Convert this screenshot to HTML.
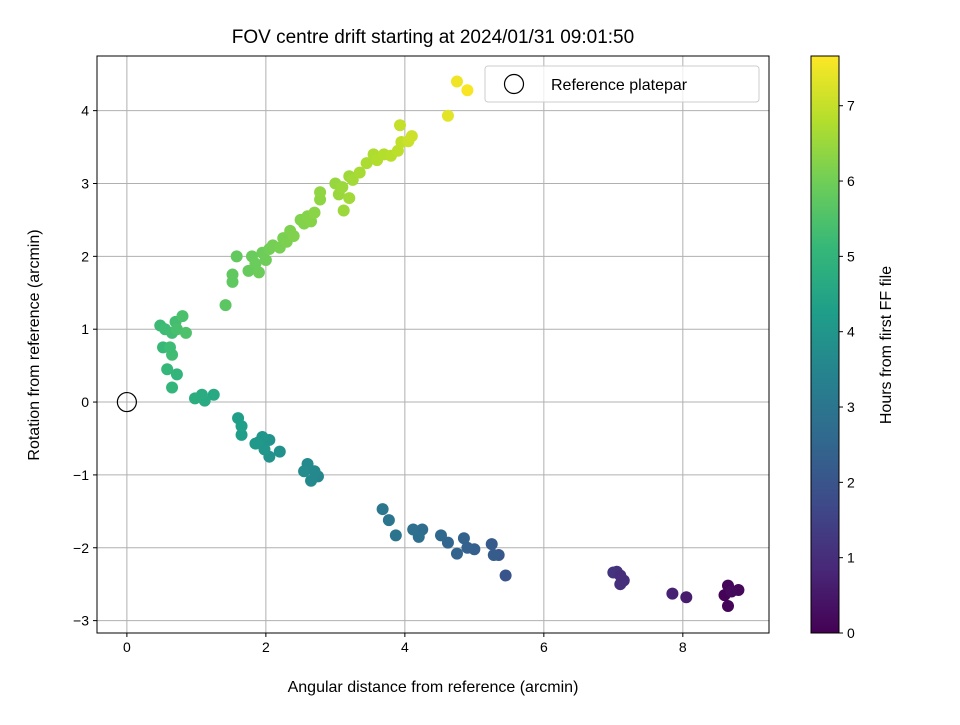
<!DOCTYPE html>
<html><head><meta charset="utf-8"><style>body{margin:0;background:#fff}svg{font-family:"Liberation Sans","DejaVu Sans",sans-serif}</style></head>
<body>
<svg id="c" width="960" height="720" xmlns="http://www.w3.org/2000/svg"></svg>
<script>
const xTicks=[0,2,4,6,8];
const yTicks=[-3,-2,-1,0,1,2,3,4];
const cTicks=[0,1,2,3,4,5,6,7];
const xs=[8.65,8.8,8.6,8.65,8.7,8.05,7.85,7.15,7.1,7.05,7.0,7.1,5.45,5.35,5.25,5.28,5.0,4.9,4.85,4.75,4.62,4.52,4.25,4.2,4.12,3.87,3.77,3.68,2.75,2.7,2.65,2.6,2.55,2.2,2.05,2.05,1.98,1.95,1.9,1.85,1.65,1.65,1.6,1.25,1.12,1.08,0.98,0.72,0.65,0.58,0.52,0.48,0.55,0.65,0.7,0.65,0.62,0.72,0.8,0.85,1.42,1.52,1.52,1.58,1.75,1.8,1.85,1.9,1.95,2.0,2.05,2.1,2.2,2.25,2.3,2.35,2.4,2.5,2.55,2.6,2.65,2.7,2.78,2.78,3.0,3.05,3.1,3.12,3.2,3.2,3.25,3.35,3.45,3.55,3.6,3.7,3.8,3.9,3.95,3.93,4.05,4.1,4.62,4.75,4.9];
const ys=[-2.52,-2.58,-2.65,-2.8,-2.6,-2.68,-2.63,-2.45,-2.5,-2.33,-2.34,-2.38,-2.38,-2.1,-1.95,-2.1,-2.02,-2.0,-1.87,-2.08,-1.93,-1.83,-1.75,-1.85,-1.75,-1.83,-1.62,-1.47,-1.02,-0.95,-1.08,-0.85,-0.95,-0.68,-0.75,-0.52,-0.65,-0.48,-0.55,-0.57,-0.45,-0.33,-0.22,0.1,0.02,0.1,0.05,0.38,0.2,0.45,0.75,1.05,1.0,0.95,1.1,0.65,0.75,1.0,1.18,0.95,1.33,1.65,1.75,2.0,1.8,2.0,1.9,1.78,2.05,1.95,2.1,2.15,2.12,2.25,2.2,2.35,2.28,2.5,2.45,2.55,2.48,2.6,2.78,2.88,3.0,2.85,2.95,2.63,3.1,2.8,3.05,3.15,3.28,3.4,3.32,3.4,3.38,3.45,3.57,3.8,3.58,3.65,3.93,4.4,4.28];
const hours=[0.1,0.15,0.05,0.1,0.2,0.6,0.7,1.0,1.05,1.1,1.15,1.0,2.0,2.1,2.15,2.2,2.3,2.35,2.4,2.45,2.5,2.55,2.7,2.75,2.8,2.95,3.0,3.05,3.55,3.6,3.62,3.65,3.7,3.85,3.9,3.95,4.0,4.02,4.05,4.1,4.25,4.28,4.3,4.6,4.65,4.7,4.75,5.0,5.05,5.1,5.15,5.2,5.25,5.3,5.35,5.3,5.25,5.4,5.45,5.5,5.7,5.75,5.78,5.8,5.85,5.88,5.9,5.92,5.95,5.97,6.0,6.05,6.08,6.1,6.12,6.15,6.18,6.2,6.22,6.25,6.27,6.3,6.35,6.38,6.45,6.48,6.5,6.52,6.55,6.57,6.6,6.65,6.7,6.75,6.78,6.8,6.85,6.9,6.95,7.0,7.05,7.1,7.35,7.5,7.6];
const hMax=7.66;
const L=97,R=769,T=56,B=633,xmin=-0.43,xmax=9.24,ymin=-3.17,ymax=4.75;
const X=v=>L+(v-xmin)/(xmax-xmin)*(R-L), Y=v=>B-(v-ymin)/(ymax-ymin)*(B-T);
const CL=811,CR=839, C=v=>B-v/hMax*(B-T);
const vir=[[68,1,84],[72,40,120],[62,74,137],[49,104,142],[38,130,142],[31,158,137],[53,183,121],[109,205,89],[180,222,44],[253,231,37]];
function col(t){t=Math.max(0,Math.min(1,t))*9;const i=Math.min(8,Math.floor(t)),f=t-i;const a=vir[i],b=vir[i+1];return`rgb(${a.map((v,k)=>Math.round(v+(b[k]-v)*f)).join(',')})`;}
const s=document.getElementById('c');const NS='http://www.w3.org/2000/svg';
function el(t,a,p){const e=document.createElementNS(NS,t);for(const k in a)e.setAttribute(k,a[k]);(p||s).appendChild(e);return e;}
function tx(str,a,n){const e=el('text',a);e.textContent=str;return e;}
// grid
xTicks.forEach(v=>{const g=el('line',{x1:X(v),x2:X(v),y1:T,y2:B,stroke:'#b0b0b0','stroke-width':1});
 el('line',{x1:X(v),x2:X(v),y1:B,y2:B+4,stroke:'#000'});
 tx(String(v),{x:X(v),y:B+19,'font-size':14,'text-anchor':'middle'},'x-tick-label');});
yTicks.forEach(v=>{const g=el('line',{x1:L,x2:R,y1:Y(v),y2:Y(v),stroke:'#b0b0b0','stroke-width':1});
 el('line',{x1:L-4,x2:L,y1:Y(v),y2:Y(v),stroke:'#000'});
 tx(v<0?'\u2212'+(-v):String(v),{x:L-8,y:Y(v)+5,'font-size':14,'text-anchor':'end'},'y-tick-label');});
// points
xs.forEach((v,i)=>{const c=el('circle',{cx:X(v),cy:Y(ys[i]),r:6,fill:col(hours[i]/hMax)});});
const rp=el('circle',{cx:X(0),cy:Y(0),r:9.5,fill:'none',stroke:'#000','stroke-width':1.2});
const fr=el('rect',{x:L,y:T,width:R-L,height:B-T,fill:'none',stroke:'#000'});
// legend
const lg=el('rect',{x:485,y:66,width:274,height:36,rx:3,fill:'#fff','fill-opacity':0.8,stroke:'#ccc'});
el('circle',{cx:514,cy:84,r:9.5,fill:'none',stroke:'#000','stroke-width':1.2});
tx('Reference platepar',{x:551,y:90,'font-size':16},'legend-label');
// titles
tx('FOV centre drift starting at 2024/01/31 09:01:50',{x:433,y:43,'font-size':19,'text-anchor':'middle'},'chart-title');
tx('Angular distance from reference (arcmin)',{x:433,y:692,'font-size':16,'text-anchor':'middle'},'x-axis-title');
tx('Rotation from reference (arcmin)',{x:39,y:345,'font-size':16,'text-anchor':'middle',transform:'rotate(-90 39 345)'},'y-axis-title');
// colorbar
const d=el('defs',{});const gr=el('linearGradient',{id:'g',x1:0,y1:1,x2:0,y2:0},d);
vir.forEach((c,i)=>el('stop',{offset:i/9,'stop-color':`rgb(${c})`},gr));
const cb=el('rect',{x:CL,y:T,width:CR-CL,height:B-T,fill:'url(#g)',stroke:'#000'});
cTicks.forEach(v=>{el('line',{x1:CR,x2:CR+4,y1:C(v),y2:C(v),stroke:'#000'});tx(String(v),{x:CR+8,y:C(v)+5,'font-size':14},'colorbar-tick-label');});
tx('Hours from first FF file',{x:891,y:345,'font-size':16,'text-anchor':'middle',transform:'rotate(-90 891 345)'},'colorbar-title');
</script>
</body></html>
